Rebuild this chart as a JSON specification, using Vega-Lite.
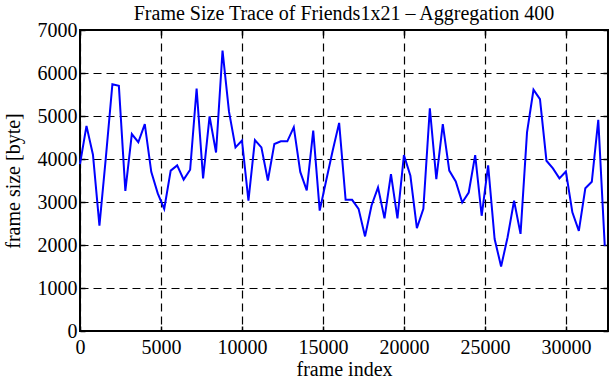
{
  "$schema": "https://vega.github.io/schema/vega-lite/v6.json",
  "width": 528,
  "height": 301,
  "autosize": {"type": "none"},
  "padding": {"left": 80, "top": 30, "right": 3, "bottom": 49},
  "background": "white",
  "title": {"text": "Frame Size Trace of Friends1x21 – Aggregation 400", "font": "Liberation Serif", "fontSize": 20, "fontWeight": "normal", "color": "black", "offset": -4},
  "config": {
    "view": {"stroke": "black", "strokeWidth": 2},
    "axis": {
      "labelFont": "Liberation Serif", "labelFontSize": 20, "labelColor": "black",
      "titleFont": "Liberation Serif", "titleFontSize": 20, "titleFontWeight": "normal", "titleColor": "black",
      "domain": false, "tickColor": "black", "tickWidth": 1.5, "tickSize": -5,
      "gridColor": "black", "gridDash": [8, 5], "gridWidth": 1.2, "gridOpacity": 1
    }
  },
  "data": {"values": [
    {"frame": 0, "size": 3880}, {"frame": 400, "size": 4770}, {"frame": 800, "size": 4100}, {"frame": 1200, "size": 2450},
    {"frame": 1600, "size": 4050}, {"frame": 2000, "size": 5740}, {"frame": 2400, "size": 5700}, {"frame": 2800, "size": 3260},
    {"frame": 3200, "size": 4580}, {"frame": 3600, "size": 4390}, {"frame": 4000, "size": 4810}, {"frame": 4400, "size": 3700},
    {"frame": 4800, "size": 3200}, {"frame": 5200, "size": 2840}, {"frame": 5600, "size": 3730}, {"frame": 6000, "size": 3850},
    {"frame": 6400, "size": 3520}, {"frame": 6800, "size": 3750}, {"frame": 7200, "size": 5640}, {"frame": 7600, "size": 3550},
    {"frame": 8000, "size": 4990}, {"frame": 8400, "size": 4150}, {"frame": 8800, "size": 6520}, {"frame": 9200, "size": 5100},
    {"frame": 9600, "size": 4270}, {"frame": 10000, "size": 4430}, {"frame": 10400, "size": 3030}, {"frame": 10800, "size": 4440},
    {"frame": 11200, "size": 4270}, {"frame": 11600, "size": 3500}, {"frame": 12000, "size": 4350}, {"frame": 12400, "size": 4410},
    {"frame": 12800, "size": 4410}, {"frame": 13200, "size": 4740}, {"frame": 13600, "size": 3700}, {"frame": 14000, "size": 3270},
    {"frame": 14400, "size": 4660}, {"frame": 14800, "size": 2800}, {"frame": 15200, "size": 3500}, {"frame": 15600, "size": 4190},
    {"frame": 16000, "size": 4840}, {"frame": 16400, "size": 3050}, {"frame": 16800, "size": 3050}, {"frame": 17200, "size": 2840},
    {"frame": 17600, "size": 2200}, {"frame": 18000, "size": 2920}, {"frame": 18400, "size": 3340}, {"frame": 18800, "size": 2620},
    {"frame": 19200, "size": 3650}, {"frame": 19600, "size": 2620}, {"frame": 20000, "size": 4090}, {"frame": 20400, "size": 3610},
    {"frame": 20800, "size": 2390}, {"frame": 21200, "size": 2840}, {"frame": 21600, "size": 5180}, {"frame": 22000, "size": 3530},
    {"frame": 22400, "size": 4810}, {"frame": 22800, "size": 3730}, {"frame": 23200, "size": 3480}, {"frame": 23600, "size": 2990},
    {"frame": 24000, "size": 3220}, {"frame": 24400, "size": 4090}, {"frame": 24800, "size": 2680}, {"frame": 25200, "size": 3850},
    {"frame": 25600, "size": 2140}, {"frame": 26000, "size": 1500}, {"frame": 26400, "size": 2180}, {"frame": 26800, "size": 3030},
    {"frame": 27200, "size": 2260}, {"frame": 27600, "size": 4620}, {"frame": 28000, "size": 5610}, {"frame": 28400, "size": 5390},
    {"frame": 28800, "size": 3960}, {"frame": 29200, "size": 3780}, {"frame": 29600, "size": 3550}, {"frame": 30000, "size": 3710},
    {"frame": 30400, "size": 2760}, {"frame": 30800, "size": 2330}, {"frame": 31200, "size": 3320}, {"frame": 31600, "size": 3470},
    {"frame": 32000, "size": 4910}, {"frame": 32400, "size": 1980}
  ]},
  "layer": [
    {
      "mark": {"type": "line", "color": "#0000ff", "strokeWidth": 2},
      "encoding": {
        "x": {"field": "frame", "type": "quantitative", "scale": {"domain": [0, 32600], "nice": false},
              "axis": {"title": "frame index", "values": [0, 5000, 10000, 15000, 20000, 25000, 30000], "grid": true, "labelPadding": 11, "titlePadding": 2, "format": "d", "labelFlush": false}},
        "y": {"field": "size", "type": "quantitative", "scale": {"domain": [0, 7000], "nice": false},
              "axis": {"title": "frame size [byte]", "values": [0, 1000, 2000, 3000, 4000, 5000, 6000, 7000], "grid": true, "labelPadding": 8, "titlePadding": 14, "format": "d"}}
      }
    },
    {
      "mark": {"type": "line", "opacity": 0},
      "encoding": {
        "x": {"field": "frame", "type": "quantitative", "scale": {"domain": [0, 32600], "nice": false},
              "axis": {"orient": "top", "title": null, "labels": false, "grid": false, "values": [0, 5000, 10000, 15000, 20000, 25000, 30000]}},
        "y": {"field": "size", "type": "quantitative", "scale": {"domain": [0, 7000], "nice": false},
              "axis": {"orient": "right", "title": null, "labels": false, "grid": false, "values": [0, 1000, 2000, 3000, 4000, 5000, 6000, 7000]}}
      }
    }
  ],
  "resolve": {"axis": {"x": "independent", "y": "independent"}}
}
